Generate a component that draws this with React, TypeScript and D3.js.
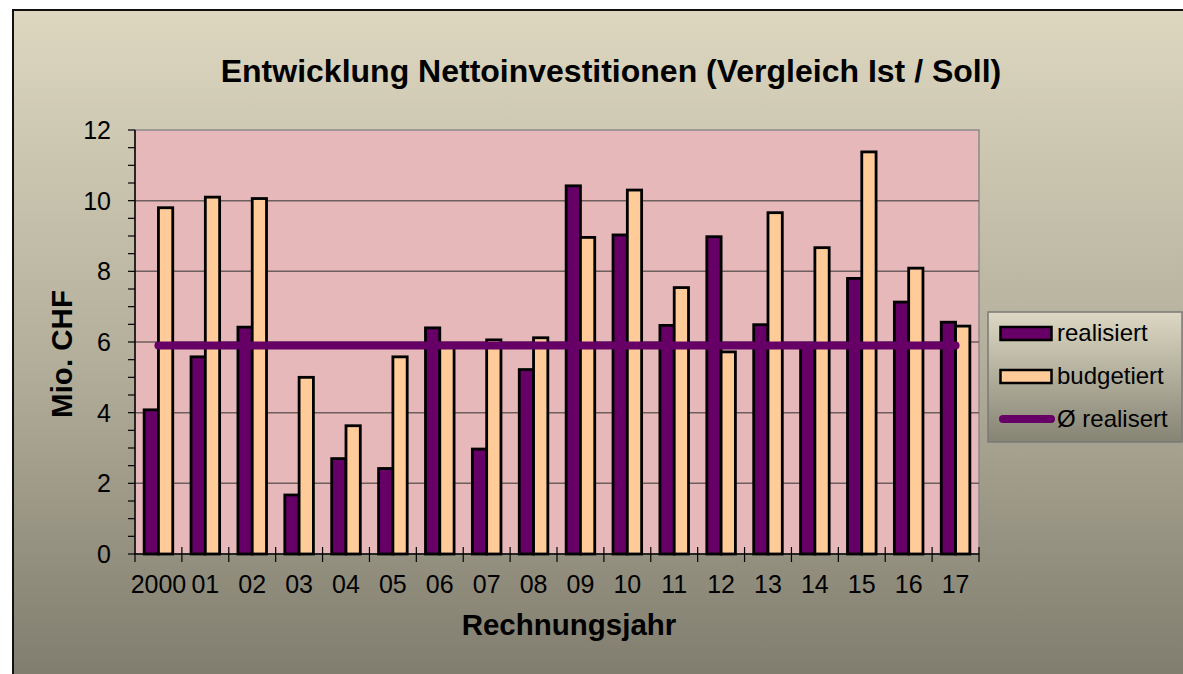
import React from "react";
import * as d3 from "d3";

const categories = ["2000", "01", "02", "03", "04", "05", "06", "07", "08", "09", "10", "11", "12", "13", "14", "15", "16", "17"];
const realisiert = [4.08, 5.58, 6.42, 1.67, 2.7, 2.42, 6.4, 2.97, 5.22, 10.42, 9.03, 6.47, 8.98, 6.49, 5.85, 7.8, 7.13, 6.56];
const budgetiert = [9.8, 10.1, 10.06, 5.0, 3.63, 5.58, 5.85, 6.06, 6.12, 8.96, 10.3, 7.54, 5.72, 9.66, 8.67, 11.38, 8.09, 6.45];
const avgRealisiert = [5.9, 5.9, 5.9, 5.9, 5.9, 5.9, 5.9, 5.9, 5.9, 5.9, 5.9, 5.9, 5.9, 5.9, 5.9, 5.9, 5.9, 5.9];
const yTicks = [0, 2, 4, 6, 8, 10, 12];
const seriesNames = ["realisiert", "budgetiert", "Ø realisert"];

const W = 1183;
const H = 674;
const FONT = "'Liberation Sans', Arial, sans-serif";
const PURPLE = "#660066";
const ORANGE = "#ffcc99";

export default function App() {
  const left = 135, right = 979, top = 130, bottom = 554;
  const x = d3.scaleBand<string>().domain(categories).range([left, right]).padding(0);
  const inner = d3.scaleBand<string>().domain(["r", "b"]).range([0, x.bandwidth()]).paddingInner(0).paddingOuter(0.64);
  const y = d3.scaleLinear().domain([0, 12]).range([bottom, top]);
  const minorTicks = d3.range(0, 12.01, 0.5);
  const line = d3
    .line<number>()
    .x((_, i) => (x(categories[i]) as number) + x.bandwidth() / 2)
    .y((d) => y(d));
  const boundaries = d3.range(0, categories.length + 1).map((i) => left + i * x.step());

  return (
    <svg width={W} height={H} style={{ position: "absolute", left: 0, top: 0 }} fontFamily={FONT}>
      <defs>
        <linearGradient id="bg" x1="0" y1="0" x2="0" y2="1">
          <stop offset="0" stopColor="#ddd7c0" />
          <stop offset="0.5" stopColor="#b4af9b" />
          <stop offset="1" stopColor="#7c796b" />
        </linearGradient>
        <linearGradient id="lg" x1="0" y1="0" x2="0" y2="1">
          <stop offset="0" stopColor="#dcd8c3" />
          <stop offset="1" stopColor="#858373" />
        </linearGradient>
      </defs>
      <rect x={0} y={0} width={W} height={H} fill="#ffffff" />
      <rect x={13} y={10} width={W + 20} height={H + 20} fill="url(#bg)" stroke="#111" strokeWidth={2} />

      {/* title */}
      <text x={611} y={82} textAnchor="middle" fontSize={32} fontWeight="bold" fill="#000">
        Entwicklung Nettoinvestitionen (Vergleich Ist / Soll)
      </text>

      {/* plot area */}
      <rect x={left} y={top} width={right - left} height={bottom - top} fill="#e6b8b9" stroke="#8a8a8a" strokeWidth={1.5} />
      {yTicks.slice(1, -1).map((t) => (
        <line key={"g" + t} x1={left} x2={right} y1={y(t)} y2={y(t)} stroke="#6e5e5e" strokeWidth={1.5} />
      ))}

      {/* bars */}
      {categories.map((c, i) => (
        <g key={c}>
          <rect
            x={(x(c) as number) + (inner("r") as number)}
            y={y(realisiert[i])}
            width={inner.bandwidth()}
            height={y(0) - y(realisiert[i])}
            fill={PURPLE}
            stroke="#000"
            strokeWidth={2.8}
          />
          <rect
            x={(x(c) as number) + (inner("b") as number)}
            y={y(budgetiert[i])}
            width={inner.bandwidth()}
            height={y(0) - y(budgetiert[i])}
            fill={ORANGE}
            stroke="#000"
            strokeWidth={2.8}
          />
        </g>
      ))}

      {/* average line */}
      <path d={line(avgRealisiert) || ""} fill="none" stroke={PURPLE} strokeWidth={8} strokeLinecap="round" />

      {/* axes */}
      <line x1={left} x2={left} y1={top} y2={bottom} stroke="#000" strokeWidth={1.5} />
      {minorTicks.map((t) => (
        <line key={"m" + t} x1={left - 7} x2={left} y1={y(t)} y2={y(t)} stroke="#000" strokeWidth={1.2} />
      ))}
      {yTicks.map((t) => (
        <text key={"yl" + t} x={111} y={y(t)} dy="0.36em" textAnchor="end" fontSize={25} fill="#000">
          {t}
        </text>
      ))}
      <line x1={left} x2={right} y1={bottom} y2={bottom} stroke="#000" strokeWidth={1.5} />
      {boundaries.map((bx, i) => (
        <line key={"xt" + i} x1={bx} x2={bx} y1={i === 0 ? bottom : bottom - 7} y2={bottom + 8} stroke="#000" strokeWidth={1.2} />
      ))}
      {categories.map((c) => (
        <text key={"xl" + c} x={(x(c) as number) + x.bandwidth() / 2} y={593} textAnchor="middle" fontSize={25} fill="#000">
          {c}
        </text>
      ))}

      {/* axis titles */}
      <text x={569} y={635} textAnchor="middle" fontSize={29.5} fontWeight="bold" fill="#000">
        Rechnungsjahr
      </text>
      <text transform="translate(72,354) rotate(-90)" textAnchor="middle" fontSize={29.5} fontWeight="bold" fill="#000">
        Mio. CHF
      </text>

      {/* legend */}
      <rect x={988} y={312} width={194} height={130} fill="url(#lg)" stroke="#7a7a7a" strokeWidth={1.5} />
      <rect x={1000.5} y={327} width={51} height={13} fill={PURPLE} stroke="#000" strokeWidth={2.5} />
      <rect x={1000.5} y={370} width={51} height={13} fill={ORANGE} stroke="#000" strokeWidth={2.5} />
      <line x1={1003} x2={1051} y1={419} y2={419} stroke={PURPLE} strokeWidth={8} strokeLinecap="round" />
      {seriesNames.map((s, i) => (
        <text key={s} x={1057} y={341 + i * 43} fontSize={24} fill="#000">
          {s}
        </text>
      ))}
    </svg>
  );
}
